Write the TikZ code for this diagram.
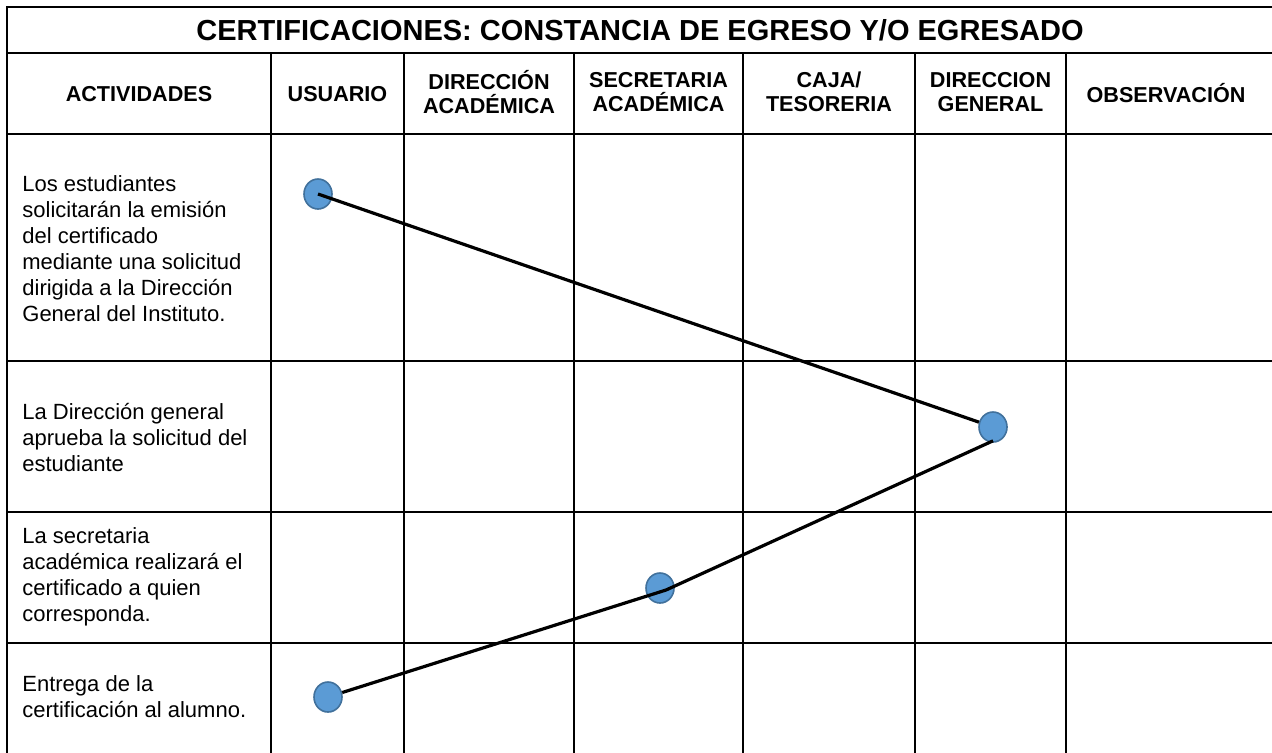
\documentclass[tikz,border=0pt]{standalone}
\usepackage{fontspec}
\setmainfont{Liberation Sans}
\usetikzlibrary{shapes.geometric}
\definecolor{dotfill}{HTML}{5B9BD5}
\definecolor{dotline}{HTML}{41719C}
\tikzset{
  grid/.style={line width=1pt, line cap=rect},
  titletxt/.style={font={\bfseries\fontsize{14.5}{17}\selectfont}, inner sep=0pt},
  headtxt/.style={font={\bfseries\fontsize{10.8}{12.2}\selectfont}, align=center, inner sep=0pt},
  bodytxt/.style={font={\fontsize{11}{13}\selectfont}, align=left, anchor=west, inner sep=0pt},
  dot/.style={ellipse, minimum width=14pt, minimum height=15pt, inner sep=0pt, fill=dotfill, draw=dotline, line width=0.8pt},
  link/.style={line width=1.6pt, black}
}
\begin{document}
\begin{tikzpicture}[x=0.5pt,y=-0.5pt]
\useasboundingbox (0,0) rectangle (1272,752);
\fill[white] (0,0) rectangle (1272,752);
\clip (0,0) rectangle (1272,752);
% grid
\draw[grid] (7,7) -- (1290,7);
\draw[grid] (7,53) -- (1290,53);
\draw[grid] (7,134) -- (1290,134);
\draw[grid] (7,361) -- (1290,361);
\draw[grid] (7,512) -- (1290,512);
\draw[grid] (7,643) -- (1290,643);
\draw[grid] (7,7) -- (7,780);
\foreach \x in {271,404,574,743,915,1066}{\draw[grid] (\x,53) -- (\x,780);}
% title
\node[titletxt] (title) at (640,30) {CERTIFICACIONES: CONSTANCIA DE EGRESO Y/O EGRESADO};
% headers
\node[headtxt] (h1) at (139,94) {ACTIVIDADES};
\node[headtxt] (h2) at (337.5,94) {USUARIO};
\node[headtxt] (h3) at (489,92) {DIRECCIÓN\\ACADÉMICA};
\node[headtxt] (h4) at (658.5,92) {SECRETARIA\\ACADÉMICA};
\node[headtxt] (h5) at (829,92) {CAJA/\\TESORERIA};
\node[headtxt] (h6) at (990.5,92) {DIRECCION\\GENERAL};
\node[headtxt] (h7) at (1166,93) {OBSERVACIÓN};
% activities
\node[bodytxt] (a1) at (22,249) {Los estudiantes\\solicitarán la emisión\\del certificado\\mediante una solicitud\\dirigida a la Dirección\\General del Instituto.};
\node[bodytxt] (a2) at (22,437) {La Dirección general\\aprueba la solicitud del\\estudiante};
\node[bodytxt] (a3) at (22,577) {La secretaria\\académica realizará el\\certificado a quien\\corresponda.};
\node[bodytxt] (a4) at (22,697) {Entrega de la\\certificación al alumno.};
% dots
\node[dot] (c1) at (318,194) {};
\node[dot] (c2) at (993,427) {};
\node[dot] (c3) at (660,588) {};
\node[dot] (c4) at (328,697) {};
\coordinate (m) at ([xshift=3pt,yshift=-1pt]c3.center);
\coordinate (s2) at ([yshift=1pt]c2.south);
% connectors
\draw[link] (c1.center) -- (c2);
\draw[link] (s2) -- (m) -- (c4);
\end{tikzpicture}
\end{document}
